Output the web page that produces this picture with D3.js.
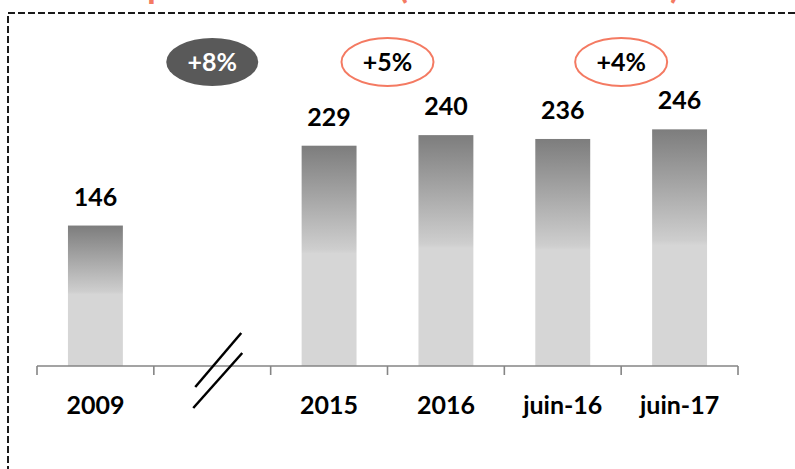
<!DOCTYPE html>
<html>
<head>
<meta charset="utf-8">
<script src="https://cdnjs.cloudflare.com/ajax/libs/d3/7.8.5/d3.min.js"></script>
<style>
	body { margin: 0; background: #fff; }
	svg { display: block; font-family: Lato, "Open Sans", sans-serif; }
</style>
</head>
<body>
<div id="graphic"></div>
<script>
// chart data
var categories = ["2009", "", "2015", "2016", "juin-16", "juin-17"];
var values = [146, null, 229, 240, 236, 246];
var growthLabels = ["+8%", "+5%", "+4%"];
var growthFrom = ["2009", "2015", "juin-16"];
var growthTo = ["2015", "2016", "juin-17"];
var growthDark = [true, false, false];

var width = 795, height = 469;
var orange = "#f47a62";

var svg = d3.select("#graphic").append("svg")
	.attr("width", width)
	.attr("height", height);

var defs = svg.append("defs");
var grad = defs.append("linearGradient")
	.attr("id", "barGrad")
	.attr("x1", 0).attr("y1", 0).attr("x2", 0).attr("y2", 1);
grad.append("stop").attr("offset", "0").attr("stop-color", "#7d7d7d");
grad.append("stop").attr("offset", "0.47").attr("stop-color", "#cecece");
grad.append("stop").attr("offset", "0.49").attr("stop-color", "#d6d6d6");
grad.append("stop").attr("offset", "1").attr("stop-color", "#d6d6d6");

// title, mostly cut off above the frame
var title = svg.append("text")
	.attr("y", -2.2)
	.attr("fill", orange)
	.style("font-size", "36px")
	.style("font-weight", "bold");
title.append("tspan").attr("x", 147).attr("text-anchor", "end").text("Évolution du ");
title.append("tspan").attr("x", 147).attr("textLength", 245).attr("lengthAdjust", "spacing").text("parc installé");
title.append("tspan").attr("x", 398).attr("textLength", 282).attr("lengthAdjust", "spacing").text("(en milliers d'unités)");

// dashed frame
svg.append("rect")
	.attr("x", 8).attr("y", 13)
	.attr("width", 820).attr("height", 500)
	.attr("fill", "none")
	.attr("stroke", "#1a1a1a")
	.attr("stroke-width", 2)
	.attr("stroke-dasharray", "7,3");

var x = d3.scaleBand()
	.domain(categories)
	.range([37, 738])
	.padding(0);

var y = d3.scaleLinear()
	.domain([0, 300])
	.range([366, 77.4]);

var barW = x.bandwidth() * 0.47;
function cx(c) { return x(c) + x.bandwidth() / 2; }

var data = categories.map(function(c, i) { return { cat: c, value: values[i] }; })
	.filter(function(d) { return d.value != null; });

svg.selectAll(".bar")
	.data(data)
	.enter()
	.append("rect")
	.attr("class", "bar")
	.attr("x", function(d) { return cx(d.cat) - barW / 2; })
	.attr("width", barW)
	.attr("y", function(d) { return y(d.value); })
	.attr("height", function(d) { return y(0) - y(d.value); })
	.attr("fill", "url(#barGrad)");

svg.selectAll(".val")
	.data(data)
	.enter()
	.append("text")
	.attr("class", "val")
	.attr("x", function(d) { return cx(d.cat); })
	.attr("y", function(d) { return y(d.value) - 20; })
	.attr("text-anchor", "middle")
	.style("font-size", "25px")
	.style("font-weight", "bold")
	.attr("fill", "#000")
	.text(function(d) { return d.value; });

// axis
var axisG = svg.append("g").attr("transform", "translate(0," + y(0) + ")");
axisG.append("line")
	.attr("x1", x.range()[0]).attr("x2", x.range()[1])
	.attr("stroke", "#858585").attr("stroke-width", 1.6);
var tickX = categories.map(function(c) { return x(c); }).concat([x.range()[1]]);
axisG.selectAll(".tick")
	.data(tickX)
	.enter()
	.append("line")
	.attr("x1", function(d) { return d; })
	.attr("x2", function(d) { return d; })
	.attr("y1", 0).attr("y2", 9)
	.attr("stroke", "#858585").attr("stroke-width", 1.6);
axisG.selectAll(".lab")
	.data(categories)
	.enter()
	.append("text")
	.attr("x", function(d) { return cx(d); })
	.attr("y", 48)
	.attr("text-anchor", "middle")
	.style("font-size", "25px")
	.style("font-weight", "bold")
	.text(function(d) { return d; });

// axis break in the empty slot
var bx = cx("");
[[-17, 387, 29, 333], [-19, 408, 30, 353]].forEach(function(s) {
	svg.append("line")
		.attr("x1", bx + s[0]).attr("y1", s[1])
		.attr("x2", bx + s[2]).attr("y2", s[3])
		.attr("stroke", "#000").attr("stroke-width", 2.5);
});

// growth bubbles
var g = svg.selectAll(".growth")
	.data(growthLabels)
	.enter()
	.append("g")
	.attr("class", "growth")
	.attr("transform", function(d, i) {
		var mx = (cx(growthFrom[i]) + cx(growthTo[i])) / 2;
		return "translate(" + mx + ",62)";
	});
g.append("ellipse")
	.attr("rx", 46).attr("ry", 24)
	.attr("fill", function(d, i) { return growthDark[i] ? "#595959" : "#fff"; })
	.attr("stroke", function(d, i) { return growthDark[i] ? "none" : orange; })
	.attr("stroke-width", 2);
g.append("text")
	.attr("text-anchor", "middle")
	.attr("dy", "0.36em")
	.style("font-size", "25px")
	.style("font-weight", "bold")
	.attr("fill", function(d, i) { return growthDark[i] ? "#fff" : "#000"; })
	.text(function(d) { return d; });
</script>
</body>
</html>
